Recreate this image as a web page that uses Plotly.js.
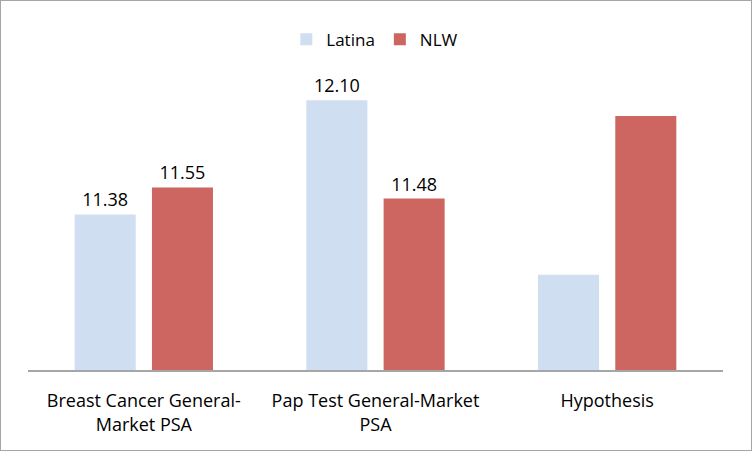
<!DOCTYPE html>
<html><head><meta charset="utf-8">
<script src="https://cdn.plot.ly/plotly-3.0.1.min.js"></script>
<style>
html,body{margin:0;padding:0;background:#fff;}
#chart{width:752px;height:451px;box-sizing:border-box;border:1px solid #a6a6a6;}
</style></head>
<body><div id="chart"></div>
<script>
const categories = ["Breast Cancer General-<br>Market PSA", "Pap Test General-Market<br>PSA", "Hypothesis"];
const latina = [11.38, 12.10, 11.0];
const nlw = [11.55, 11.48, 12.0];
const latinaLabels = ["11.38", "12.10", ""];
const nlwLabels = ["11.55", "11.48", ""];

const font = "Open Sans, Noto Sans, sans-serif";
const traces = [
  {type:"bar", name:"Latina", x:categories, y:latina, text:latinaLabels, textposition:"outside",
   cliponaxis:false, marker:{color:"#cfdff1"}, textfont:{size:18, color:"#000", family:font}, hoverinfo:"none"},
  {type:"bar", name:"NLW", x:categories, y:nlw, text:nlwLabels, textposition:"outside",
   cliponaxis:false, marker:{color:"#cd6660"}, textfont:{size:18, color:"#000", family:font}, hoverinfo:"none"}
];
const layout = {
  width:750, height:449,
  margin:{l:27, r:28, t:19, b:80},
  paper_bgcolor:"#fff", plot_bgcolor:"#fff",
  font:{family:font, size:17, color:"#000"},
  barmode:"group", bargap:0.333, bargroupgap:0.21,
  showlegend:true,
  legend:{orientation:"h", x:0.499, xanchor:"center", y:0.944, yanchor:"middle", font:{size:17}, itemwidth:30, tracegroupgap:0},
  xaxis:{showline:true, linecolor:"#a6a6a6", linewidth:1.5, ticks:"", showgrid:false, tickfont:{size:18}, ticklabelstandoff:14},
  yaxis:{range:[10.4, 12.605], visible:false, showgrid:false, zeroline:false}
};
Plotly.newPlot("chart", traces, layout, {displayModeBar:false, staticPlot:true});
</script></body></html>
